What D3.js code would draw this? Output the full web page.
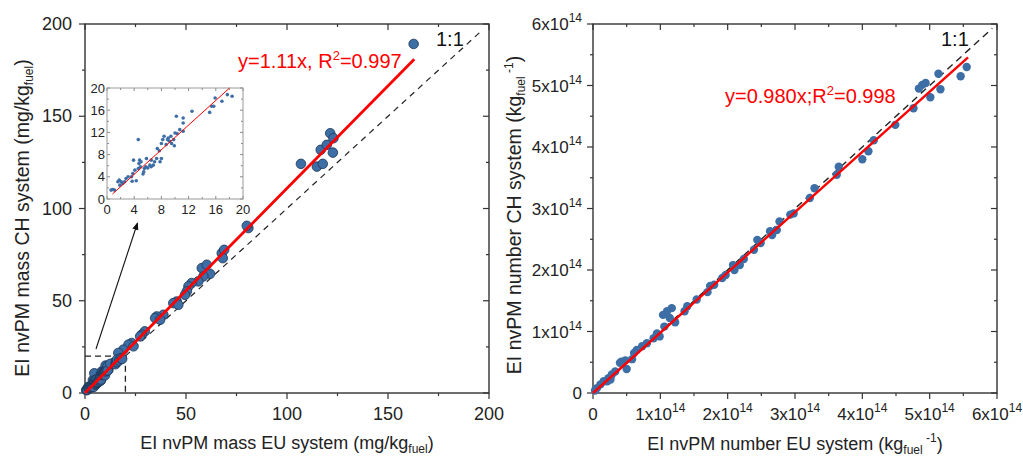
<!DOCTYPE html>
<html><head><meta charset="utf-8">
<script src="https://cdn.jsdelivr.net/npm/d3@7"></script>
<style>body{margin:0;background:#fff}svg{display:block}text{font-family:"Liberation Sans",Arial,sans-serif}</style>
</head><body><svg id="c" width="1023" height="457"></svg>
<script>
// ---- Data ----
// Mass, EI nvPM (mg/kg_fuel): EU (x) vs CH (y), values above ~20
const massX = [162.7,106.9,114.8,117.7,116.7,119.7,121.4,123.0,122.7,80.9,80.1,67.7,68.9,68.2,57.8,60.3,61.9,58.6,56.1,52.8,51.2,50.4,49.5,45.4,43.7,46.2,38.8,35.5,34.7,37.2,29.6,28.1,27.3,23.1,21.5,24.0,19.0,16.5,18.2,15.7,14.0,10.7,11.6,8.3];
const massY = [189.2,124.2,122.7,124.2,131.8,134.5,140.8,138.1,130.3,89.4,90.6,75.8,77.6,73.1,67.7,69.5,64.6,63.2,60.5,59.6,57.8,55.1,53.2,49.6,48.7,47.8,42.4,41.5,40.6,39.7,33.4,31.6,30.7,27.1,26.2,25.3,23.5,21.7,19.0,17.1,16.2,14.4,12.6,11.7];
// Low-range mass points (inset, 0-20)
const lowX = [0.6,0.84,1.1,1.6,1.8,2.1,1.9,2.3,2.6,2.8,3.1,3.6,3.7,3.8,4.1,4.3,3.9,4.6,4.7,4.6,4.8,5.0,4.9,5.3,5.4,5.5,5.7,5.8,6.0,6.3,6.5,6.5,6.8,7.0,7.3,7.4,7.7,7.8,8.0,8.0,8.2,8.4,8.7,8.9,9.0,9.2,9.4,9.5,9.8,9.9,10.0,10.2,10.3,10.7,11.2,11.2,11.2,12.5,15.1,15.4,15.7,15.9,16.9,17.7,18.4];
const lowY = [1.6,1.7,1.6,3.1,3.4,3.1,2.5,2.8,3.1,3.7,4.0,4.0,3.2,4.6,5.2,3.3,7.0,5.5,6.4,10.7,7.0,6.7,5.8,4.5,4.9,5.5,5.8,7.3,5.6,6.1,5.8,7.0,6.1,6.7,7.3,9.1,8.7,6.7,7.3,10.0,10.7,11.3,9.8,10.7,11.0,10.4,11.3,10.0,10.7,9.6,11.9,14.9,11.8,12.5,13.7,14.6,12.2,15.8,15.6,16.7,16.7,18.2,17.6,18.8,18.5];
// Number, EI nvPM (units of 1e14 per kg_fuel): EU (x) vs CH (y)
const numX = [5.55,5.46,5.16,5.13,5.01,4.94,4.89,4.84,4.76,4.49,4.17,4.09,4.00,3.65,3.62,3.29,3.22,2.98,2.93,2.77,2.73,2.66,2.63,2.49,2.44,2.39,2.24,2.18,2.08,2.10,1.97,1.92,1.80,1.74,1.70,1.54,1.40,1.36,1.17,1.10,1.04,1.22,1.14,1.06,0.95,0.99,0.90,0.80,0.73,0.65,0.61,0.58,0.48,0.42,0.40,0.50,0.33,0.28,0.23,0.16,0.11,0.06,0.21,0.26,0.03];
const numY = [5.30,5.15,4.94,5.19,4.81,5.04,5.01,4.95,4.63,4.36,4.11,3.93,3.80,3.68,3.55,3.33,3.17,2.92,2.90,2.79,2.65,2.57,2.63,2.44,2.49,2.33,2.18,2.08,2.08,2.00,1.92,1.87,1.76,1.74,1.64,1.52,1.41,1.33,1.38,1.33,1.27,1.15,1.22,1.08,0.97,0.92,0.89,0.81,0.76,0.70,0.65,0.55,0.53,0.51,0.49,0.39,0.35,0.30,0.24,0.19,0.14,0.08,0.19,0.22,0.04];
// Fits
const massSlope = 1.11, massFitMax = 163;
const numSlope = 0.980, numFitMax = 5.57;
const massTicks = [0,50,100,150,200];
const insetTicks = [0,4,8,12,16,20];
const numTicks = [0,1,2,3,4,5,6];

const svg = d3.select("#c");
const blue = "#3d6ea6";
const FS = 18;

function frame(g, x, y, minorX, minorY, majX, majY){
  const [x0,x1] = x.range(), [y0,y1] = y.range();
  minorX.forEach(v=>{const len = majX.includes(v)?6:3;
    g.append("line").attr("x1",x(v)).attr("x2",x(v)).attr("y1",y0).attr("y2",y0+len).attr("stroke","#333").attr("stroke-width",1.2);
    g.append("line").attr("x1",x(v)).attr("x2",x(v)).attr("y1",y1).attr("y2",y1+len).attr("stroke","#333").attr("stroke-width",1.2);
  });
  minorY.forEach(v=>{const len = majY.includes(v)?6:3;
    g.append("line").attr("y1",y(v)).attr("y2",y(v)).attr("x1",x0).attr("x2",x0-len).attr("stroke","#333").attr("stroke-width",1.2);
    g.append("line").attr("y1",y(v)).attr("y2",y(v)).attr("x1",x1).attr("x2",x1-len).attr("stroke","#333").attr("stroke-width",1.2);
  });
  g.append("rect").attr("x",x0).attr("y",y1).attr("width",x1-x0).attr("height",y0-y1)
    .attr("fill","none").attr("stroke","#333").attr("stroke-width",1.4);
}

// ===== Left panel =====
const xL = d3.scaleLinear().domain([0,200]).range([85,489]);
const yL = d3.scaleLinear().domain([0,200]).range([393,24]);
const gL = svg.append("g");
frame(gL, xL, yL, d3.range(0,201,25), d3.range(0,201,25), massTicks, massTicks);
massTicks.forEach(v=>{
  gL.append("text").attr("x",xL(v)).attr("y",420).attr("text-anchor","middle").attr("font-size",FS).attr("fill","#222").text(v);
  gL.append("text").attr("x",72).attr("y",yL(v)+6).attr("text-anchor","end").attr("font-size",FS).attr("fill","#222").text(v);
});
gL.append("line").attr("x1",xL(0)).attr("y1",yL(0)).attr("x2",xL(197)).attr("y2",yL(197))
  .attr("stroke","#222").attr("stroke-width",1.2).attr("stroke-dasharray","6,5");
gL.append("path").attr("d",`M${xL(0)},${yL(20)}H${xL(20)}V${yL(0)}`).attr("fill","none")
  .attr("stroke","#222").attr("stroke-width",1.3).attr("stroke-dasharray","6,4");
const allMX = massX.concat(lowX), allMY = massY.concat(lowY);
gL.append("g").selectAll("circle").data(allMX).join("circle")
  .attr("cx",(d)=>xL(d)).attr("cy",(d,i)=>yL(allMY[i])).attr("r",4.8)
  .attr("fill",blue).attr("stroke","#1d3553").attr("stroke-width",0.8);
gL.append("line").attr("x1",xL(0)).attr("y1",yL(0)).attr("x2",xL(massFitMax)).attr("y2",yL(massFitMax*massSlope))
  .attr("stroke","#f00").attr("stroke-width",2.8);
gL.append("text").attr("x",238).attr("y",68).attr("font-size",20).attr("fill","#f00")
  .html('y=1.11x, R<tspan dy="-8" font-size="13">2</tspan><tspan dy="8">=0.997</tspan>');
gL.append("text").attr("x",436).attr("y",46).attr("font-size",20).attr("fill","#111").text("1:1");
svg.append("defs").append("marker").attr("id","ah").attr("viewBox","0 0 10 10").attr("refX",9).attr("refY",5)
  .attr("markerWidth",7).attr("markerHeight",7).attr("orient","auto")
  .append("path").attr("d","M0,1L10,5L0,9Z").attr("fill","#111");
gL.append("line").attr("x1",96).attr("y1",349).attr("x2",137.5).attr("y2",223)
  .attr("stroke","#111").attr("stroke-width",1.1).attr("marker-end","url(#ah)");
gL.append("text").attr("transform","translate(29,218) rotate(-90)").attr("text-anchor","middle").attr("font-size",19.5).attr("fill","#222")
  .html('EI nvPM mass CH system (mg/kg<tspan dy="4" font-size="12">fuel</tspan><tspan dy="-4">)</tspan>');
gL.append("text").attr("x",287).attr("y",449).attr("text-anchor","middle").attr("font-size",18).attr("fill","#222")
  .html('EI nvPM mass EU system (mg/kg<tspan dy="4" font-size="12">fuel</tspan><tspan dy="-4">)</tspan>');

// inset
const xI = d3.scaleLinear().domain([0,20]).range([107,243]);
const yI = d3.scaleLinear().domain([0,20]).range([199,88]);
const gI = svg.append("g");
gI.append("rect").attr("x",107).attr("y",88).attr("width",136).attr("height",111).attr("fill","#fff");
d3.range(0,21,2).forEach(v=>{
  const len = insetTicks.includes(v)?3:2;
  gI.append("line").attr("x1",xI(v)).attr("x2",xI(v)).attr("y1",199).attr("y2",199-len).attr("stroke","#888");
  gI.append("line").attr("x1",xI(v)).attr("x2",xI(v)).attr("y1",88).attr("y2",88+len).attr("stroke","#888");
  gI.append("line").attr("y1",yI(v)).attr("y2",yI(v)).attr("x1",107).attr("x2",107+len).attr("stroke","#888");
  gI.append("line").attr("y1",yI(v)).attr("y2",yI(v)).attr("x1",243).attr("x2",243-len).attr("stroke","#888");
});
gI.append("rect").attr("x",107).attr("y",88).attr("width",136).attr("height",111).attr("fill","none").attr("stroke","#999").attr("stroke-width",1);
insetTicks.forEach(v=>{
  gI.append("text").attr("x",xI(v)).attr("y",214).attr("text-anchor","middle").attr("font-size",13).attr("fill","#222").text(v);
  gI.append("text").attr("x",105).attr("y",yI(v)+4.5).attr("text-anchor","end").attr("font-size",13).attr("fill","#222").text(v);
});
gI.append("g").selectAll("circle").data(lowX).join("circle")
  .attr("cx",d=>xI(d)).attr("cy",(d,i)=>yI(lowY[i])).attr("r",1.8).attr("fill",blue);
gI.append("line").attr("x1",xI(0.8)).attr("y1",yI(0.8*massSlope)).attr("x2",xI(18)).attr("y2",yI(18*massSlope))
  .attr("stroke","#f00").attr("stroke-width",1);

// ===== Right panel =====
const xR = d3.scaleLinear().domain([0,6]).range([593,997]);
const yR = d3.scaleLinear().domain([0,6]).range([393,24]);
const gR = svg.append("g");
frame(gR, xR, yR, d3.range(0,6.01,0.5), d3.range(0,6.01,0.5), numTicks, numTicks);
function sci(sel, v){
  if(v===0){ sel.text("0"); return; }
  sel.html(`${v}x10<tspan dy="-8" font-size="12">14</tspan>`);
}
numTicks.forEach(v=>{
  gR.append("text").attr("x",xR(v)).attr("y",420).attr("text-anchor","middle").attr("font-size",17).attr("fill","#222").call(sci,v);
  gR.append("text").attr("x",582).attr("y",yR(v)+6).attr("text-anchor","end").attr("font-size",17).attr("fill","#222").call(sci,v);
});
gR.append("line").attr("x1",xR(0)).attr("y1",yR(0)).attr("x2",xR(5.93)).attr("y2",yR(5.93))
  .attr("stroke","#222").attr("stroke-width",1.4).attr("stroke-dasharray","7,5");
gR.append("g").selectAll("circle").data(numX).join("circle")
  .attr("cx",d=>xR(d)).attr("cy",(d,i)=>yR(numY[i])).attr("r",4.2).attr("fill",blue);
gR.append("line").attr("x1",xR(0)).attr("y1",yR(0)).attr("x2",xR(numFitMax)).attr("y2",yR(numFitMax*numSlope))
  .attr("stroke","#f00").attr("stroke-width",2.4);
gR.append("text").attr("x",725).attr("y",103).attr("font-size",20).attr("fill","#f00")
  .html('y=0.980x;R<tspan dy="-8" font-size="13">2</tspan><tspan dy="8">=0.998</tspan>');
gR.append("text").attr("x",941).attr("y",46).attr("font-size",20).attr("fill","#111").text("1:1");
gR.append("text").attr("transform","translate(521,215) rotate(-90)").attr("text-anchor","middle").attr("font-size",19.5).attr("fill","#222")
  .html('EI nvPM number CH system (kg<tspan dy="4" font-size="12">fuel</tspan><tspan dy="-12" font-size="12"> -1</tspan><tspan dy="8">)</tspan>');
gR.append("text").attr("x",795).attr("y",450).attr("text-anchor","middle").attr("font-size",18).attr("fill","#222")
  .html('EI nvPM number EU system (kg<tspan dy="4" font-size="12">fuel</tspan><tspan dy="-12" font-size="12"> -1</tspan><tspan dy="8">)</tspan>');
</script></body></html>
